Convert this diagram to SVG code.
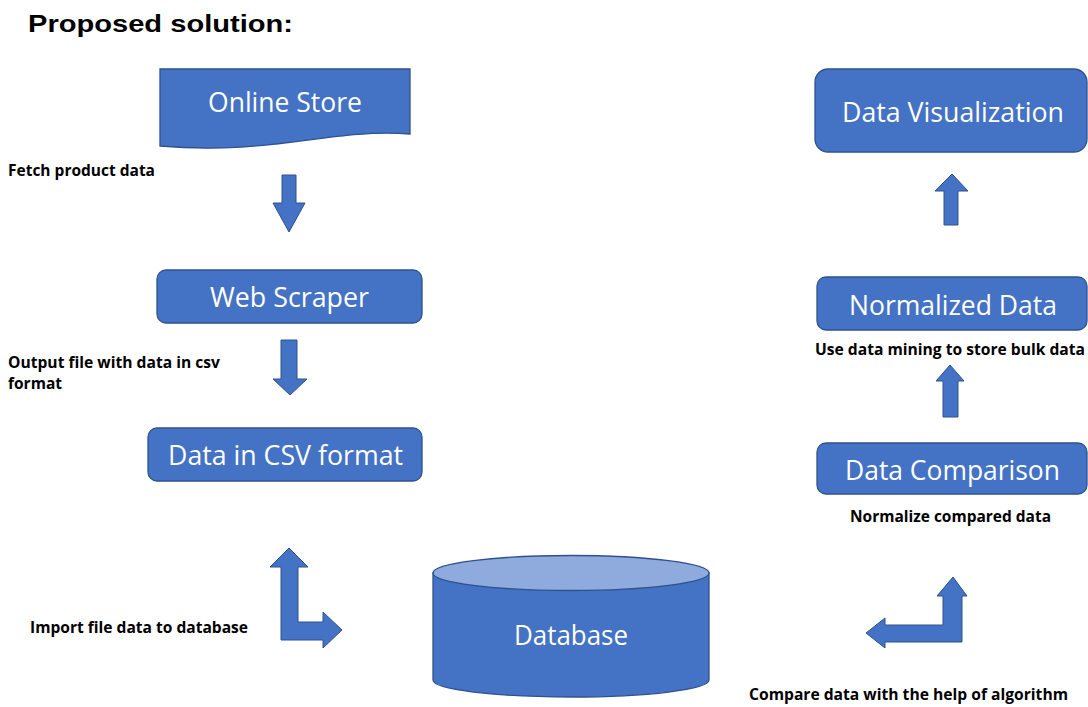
<svg xmlns="http://www.w3.org/2000/svg" width="1088" height="707" viewBox="0 0 1088 707">
<style>
.node{fill:#4472C4;stroke:#2F528F;stroke-width:1.3}
.top{fill:#8FAADC;stroke:#2F528F;stroke-width:1.3}
.nt{font-family:"Open Sans","Liberation Sans",sans-serif;font-size:27px;fill:#fff}
.lb{font-family:"Open Sans","Liberation Sans",sans-serif;font-size:15.5px;font-weight:bold;fill:#000}
.arr{fill:#4472C4;stroke:#2F528F;stroke-width:1}
.title{font-family:"Liberation Sans",Arial,sans-serif;font-size:24px;font-weight:bold;fill:#000}
</style>
<rect width="1088" height="707" fill="#fff"/>
<text class="title" x="28" y="32" textLength="265" lengthAdjust="spacingAndGlyphs">Proposed solution:</text>

<g id="online-store">
<path class="node" d="M160,69 H410 V134 C330,128 270,156 160,146 Z"/>
<text class="nt" x="208" y="112" textLength="154" lengthAdjust="spacingAndGlyphs">Online Store</text>
</g>
<g id="web-scraper">
<rect class="node" x="157" y="270" width="265" height="53" rx="9"/>
<text class="nt" x="210" y="307" textLength="159" lengthAdjust="spacingAndGlyphs">Web Scraper</text>
</g>
<g id="data-csv">
<rect class="node" x="148" y="428" width="274" height="53" rx="9"/>
<text class="nt" x="168" y="465" textLength="235" lengthAdjust="spacingAndGlyphs">Data in CSV format</text>
</g>
<g id="database">
<path class="node" d="M433,573 V680 A138,17 0 0 0 709,680 V573 Z"/>
<ellipse class="top" cx="571" cy="573" rx="138" ry="17.5"/>
<text class="nt" x="514" y="645" textLength="114" lengthAdjust="spacingAndGlyphs">Database</text>
</g>
<g id="data-visualization">
<rect class="node" x="815" y="69" width="272" height="83" rx="13"/>
<text class="nt" x="842" y="122" textLength="222" lengthAdjust="spacingAndGlyphs">Data Visualization</text>
</g>
<g id="normalized-data">
<rect class="node" x="817" y="277" width="270" height="53" rx="9"/>
<text class="nt" x="849" y="315" textLength="208" lengthAdjust="spacingAndGlyphs">Normalized Data</text>
</g>
<g id="data-comparison">
<rect class="node" x="817" y="443" width="270" height="51" rx="9"/>
<text class="nt" x="845" y="480" textLength="215" lengthAdjust="spacingAndGlyphs">Data Comparison</text>
</g>

<g id="connectors">
<path class="arr" d="M282,175 H296 V203 H305 L289,232 L273,203 H282 Z"/>
<path class="arr" d="M281,340 H297 V379 H307 L290,395 L273,379 H281 Z"/>
<path class="arr" d="M281,640 V567 H270 L289,548 L308,567 H298 V622 H323 V612 L342,630 L323,648 V640 Z"/>
<path class="arr" d="M962,642 V596 H967 L953,577 L937,596 H943 V625 H885 V618 L866,633 L885,648 V642 Z"/>
<path class="arr" d="M943,417 V381 H936 L950,365 L964,381 H958 V417 Z"/>
<path class="arr" d="M944,225 V191 H935 L952,174 L968,191 H958 V225 Z"/>
</g>

<g id="labels">
<text class="lb" x="8" y="176" textLength="147" lengthAdjust="spacingAndGlyphs">Fetch product data</text>
<text class="lb" x="8" y="368" textLength="212" lengthAdjust="spacingAndGlyphs">Output file with data in csv</text>
<text class="lb" x="8" y="389" textLength="54" lengthAdjust="spacingAndGlyphs">format</text>
<text class="lb" x="30" y="633" textLength="218" lengthAdjust="spacingAndGlyphs">Import file data to database</text>
<text class="lb" x="815" y="355" textLength="270" lengthAdjust="spacingAndGlyphs">Use data mining to store bulk data</text>
<text class="lb" x="850" y="522" textLength="201" lengthAdjust="spacingAndGlyphs">Normalize compared data</text>
<text class="lb" x="749" y="700" textLength="319" lengthAdjust="spacingAndGlyphs">Compare data with the help of algorithm</text>
</g>
</svg>
